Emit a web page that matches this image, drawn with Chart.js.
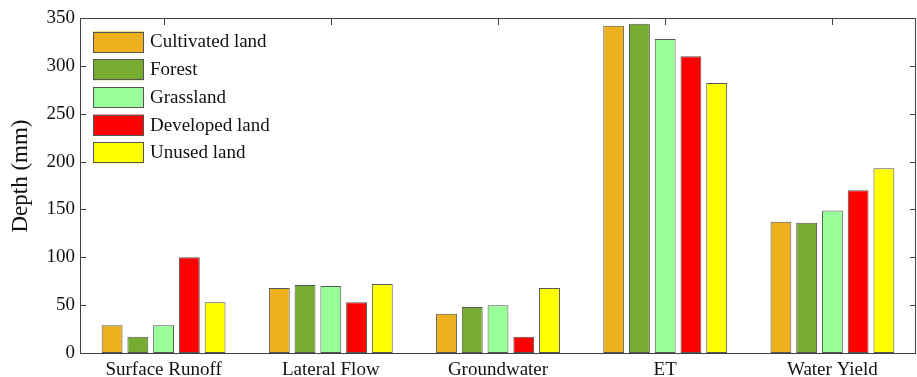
<!DOCTYPE html>
<html>
<head>
<meta charset="utf-8">
<script src="https://cdn.jsdelivr.net/npm/chart.js@4.4.1/dist/chart.umd.min.js"></script>
<style>
  html, body { margin: 0; padding: 0; background: #fff; }
  #wrap { width: 917px; height: 377px; }
</style>
</head>
<body>
<div id="wrap"><canvas id="depthChart" width="917" height="377"></canvas></div>
<script>
const categories = ["Surface Runoff", "Lateral Flow", "Groundwater", "ET", "Water Yield"];
const landTypes = ["Cultivated land", "Forest", "Grassland", "Developed land", "Unused land"];
const landColors = ["#EDB120", "#77AC30", "#99FF99", "#FF0000", "#FFFF00"];

const cultivated = [29, 68, 41, 342, 137];
const forest = [17, 71, 48, 344, 136];
const grassland = [29, 70, 50, 328, 149];
const developed = [100, 53, 17, 310, 170];
const unused = [53, 72, 68, 282, 193];

const yTicks = [0, 50, 100, 150, 200, 250, 300, 350];
const yTitle = "Depth (mm)";

const serif = "'Times New Roman', 'Liberation Serif', serif";
const axisColor = "#404040";
const textColor = "#111";

// box around the plot with inward tick marks, like a matlab axes
const boxTicks = {
  id: "boxTicks",
  beforeDatasetsDraw(chart) {
    const { ctx, chartArea: a, scales } = chart;
    ctx.save();
    ctx.strokeStyle = axisColor;
    ctx.lineWidth = 1;
    ctx.beginPath();
    yTicks.forEach((v) => {
      const y = Math.round(scales.y.getPixelForValue(v)) + 0.5;
      ctx.moveTo(a.left, y); ctx.lineTo(a.left + 6, y);
      ctx.moveTo(a.right, y); ctx.lineTo(a.right - 6, y);
    });
    categories.forEach((c, i) => {
      const x = Math.round(scales.x.getPixelForValue(i)) + 0.5;
      ctx.moveTo(x, a.top); ctx.lineTo(x, a.top + 7);
      ctx.moveTo(x, a.bottom); ctx.lineTo(x, a.bottom - 7);
    });
    ctx.stroke();
    ctx.restore();
  },
  afterDraw(chart) {
    const { ctx, chartArea: a } = chart;
    ctx.save();
    ctx.strokeStyle = axisColor;
    ctx.lineWidth = 1;
    ctx.strokeRect(Math.round(a.left) + 0.5, Math.round(a.top) + 0.5,
      Math.round(a.right - a.left) - 1, Math.round(a.bottom - a.top));

    // y axis title, sits a little above the middle of the axis
    ctx.translate(21, 176);
    ctx.rotate(-Math.PI / 2);
    ctx.font = "23px " + serif;
    ctx.fillStyle = textColor;
    ctx.textAlign = "center";
    ctx.textBaseline = "middle";
    ctx.fillText(yTitle, 0, 0);
    ctx.restore();
  }
};

// legend in the upper left corner, no frame
const cornerLegend = {
  id: "cornerLegend",
  afterDraw(chart) {
    const { ctx } = chart;
    ctx.save();
    ctx.font = "19px " + serif;
    ctx.textBaseline = "middle";
    chart.data.datasets.forEach((ds, i) => {
      const y = 31.5 + i * 27.7;
      ctx.fillStyle = ds.backgroundColor;
      ctx.fillRect(93, y, 51, 21);
      ctx.strokeStyle = "#555";
      ctx.lineWidth = 1;
      ctx.strokeRect(93.5, Math.round(y) + 0.5, 50, 20);
      ctx.fillStyle = textColor;
      ctx.fillText(ds.label, 150, y + 11);
    });
    ctx.restore();
  }
};

const series = [cultivated, forest, grassland, developed, unused];

new Chart(document.getElementById("depthChart"), {
  type: "bar",
  data: {
    labels: categories,
    datasets: series.map((vals, i) => ({
      label: landTypes[i],
      data: vals,
      backgroundColor: landColors[i],
      borderColor: "#555",
      borderWidth: 1,
      borderSkipped: false,
      categoryPercentage: 0.77,
      barPercentage: 0.81
    }))
  },
  options: {
    responsive: false,
    animation: false,
    layout: { padding: { top: 18, right: 1, left: 0, bottom: 0 } },
    plugins: { legend: { display: false }, tooltip: { enabled: false } },
    scales: {
      x: {
        grid: { display: false, drawTicks: false },
        border: { display: false },
        ticks: { color: textColor, font: { family: serif, size: 19 }, padding: 6 },
        afterFit(scale) { scale.height = 24; }
      },
      y: {
        min: 0,
        max: 350,
        grid: { display: false, drawTicks: false },
        border: { display: false },
        ticks: {
          stepSize: 50,
          color: textColor,
          font: { family: serif, size: 19 },
          padding: 5
        },
        afterFit(scale) { scale.width = 80; }
      }
    }
  },
  plugins: [boxTicks, cornerLegend]
});
</script>
</body>
</html>
